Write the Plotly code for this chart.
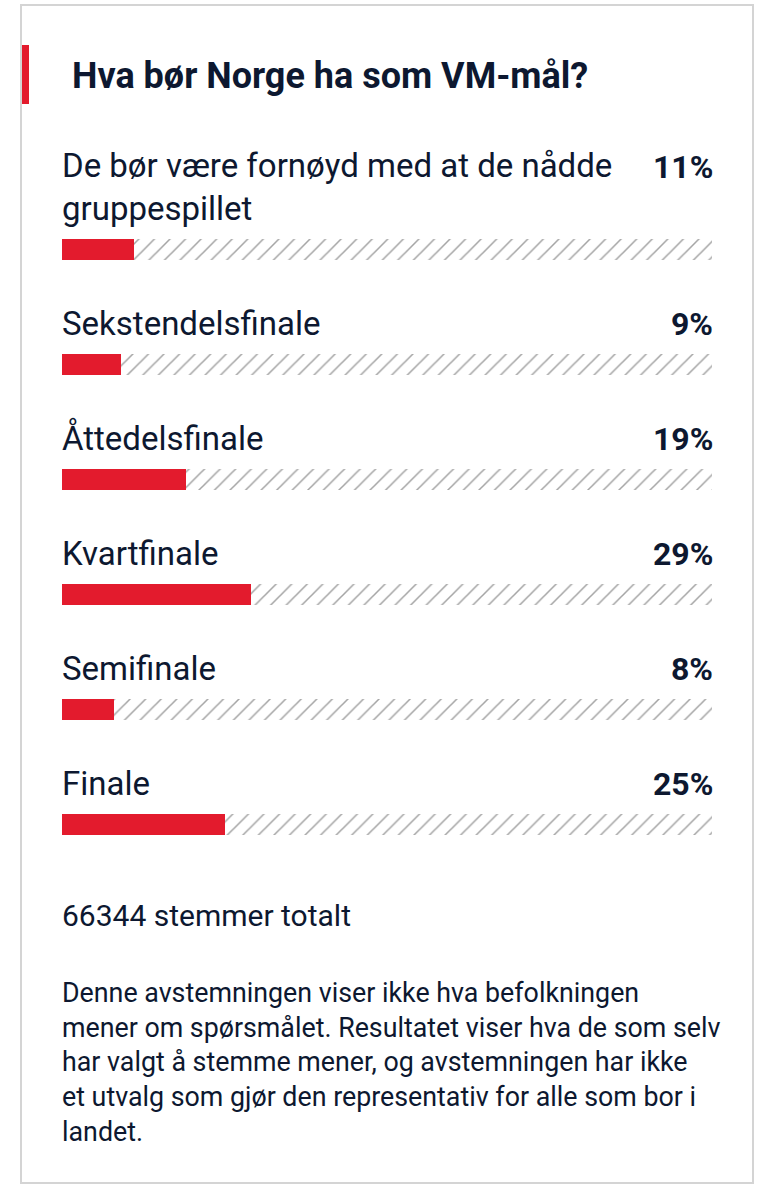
import plotly.graph_objects as go

# poll data
options = [
    "De bør være fornøyd med at de nådde<br>gruppespillet",
    "Sekstendelsfinale",
    "Åttedelsfinale",
    "Kvartfinale",
    "Semifinale",
    "Finale",
]
percent = [11, 9, 19, 29, 8, 25]
total_votes = 66344
title = "Hva bør Norge ha som VM-mål?"
footer_lines = [
    "Denne avstemningen viser ikke hva befolkningen",
    "mener om spørsmålet. Resultatet viser hva de som selv",
    "har valgt å stemme mener, og avstemningen har ikke",
    "et utvalg som gjør den representativ for alle som bor i",
    "landet.",
]

W, H = 774, 1200
RED = "#e31b2d"
INK = "#0d1830"
FONT = "Roboto"
LABEL_SIZE = 33

cats = list(range(len(options)))

fig = go.Figure()
# hatched track (full 100%)
fig.add_trace(go.Bar(
    x=[100] * len(cats), y=cats, orientation="h", width=0.19,
    marker=dict(color="white", line_width=0,
                pattern=dict(shape="/", fgcolor="#4a4a4a", bgcolor="white",
                             size=11, solidity=0.14)),
    hoverinfo="skip", showlegend=False,
))
# result bars
fig.add_trace(go.Bar(
    x=percent, y=cats, orientation="h", width=0.19,
    marker=dict(color=RED, line_width=0),
    hovertemplate="%{x}%<extra></extra>", showlegend=False,
))

ann = []
for i, (lab, p) in enumerate(zip(options, percent)):
    nlines = lab.count("<br>") + 1
    ann.append(dict(x=0, y=i, xref="x", yref="y", text=lab, showarrow=False,
                    xanchor="left", yanchor="bottom", align="left", yshift=19,
                    xshift=-2, font=dict(family=FONT, size=LABEL_SIZE, color=INK)))
    ann.append(dict(x=100, y=i, xref="x", yref="y", text=f"<b>{p}%</b>", showarrow=False,
                    xanchor="right", yanchor="bottom", align="right",
                    yshift=19 + (nlines - 1) * 42, xshift=3,
                    font=dict(family=FONT, size=32, color=INK)))

ann.append(dict(x=70 / W, y=1 - 76 / H, xref="paper", yref="paper", text=f"<b>{title}</b>",
                showarrow=False, xanchor="left", yanchor="middle",
                font=dict(family=FONT, size=36, color=INK)))
ann.append(dict(x=60 / W, y=1 - 915 / H, xref="paper", yref="paper",
                text=f"{total_votes} stemmer totalt", showarrow=False,
                xanchor="left", yanchor="middle",
                font=dict(family=FONT, size=30, color=INK)))
for k, line in enumerate(footer_lines):
    ann.append(dict(x=60 / W, y=1 - (993 + k * 34.7) / H, xref="paper", yref="paper",
                    text=line, showarrow=False, xanchor="left", yanchor="middle",
                    font=dict(family=FONT, size=26.8, color=INK)))

shapes = [
    # card border
    dict(type="rect", xref="paper", yref="paper", x0=21 / W, x1=753 / W,
         y0=1 - 1183 / H, y1=1 - 5 / H, line=dict(color="#d4d4d4", width=2),
         fillcolor="rgba(0,0,0,0)", layer="below"),
    # red accent
    dict(type="rect", xref="paper", yref="paper", x0=22 / W, x1=29 / W,
         y0=1 - 104 / H, y1=1 - 45 / H, line_width=0, fillcolor=RED),
]

fig.update_layout(
    width=W, height=H, margin=dict(l=0, r=0, t=0, b=0),
    paper_bgcolor="white", plot_bgcolor="white",
    barmode="overlay", bargap=0,
    xaxis=dict(range=[0, 100], domain=[62 / W, 712 / W], visible=False, fixedrange=True),
    yaxis=dict(range=[5.5, -0.5], domain=[1 - 881.5 / H, 1 - 191.5 / H],
               visible=False, fixedrange=True),
    annotations=ann, shapes=shapes,
    font=dict(family=FONT, color=INK),
)

fig.write_html("out.html", config={"displayModeBar": False},
               post_script="document.body.style.margin='0';")
